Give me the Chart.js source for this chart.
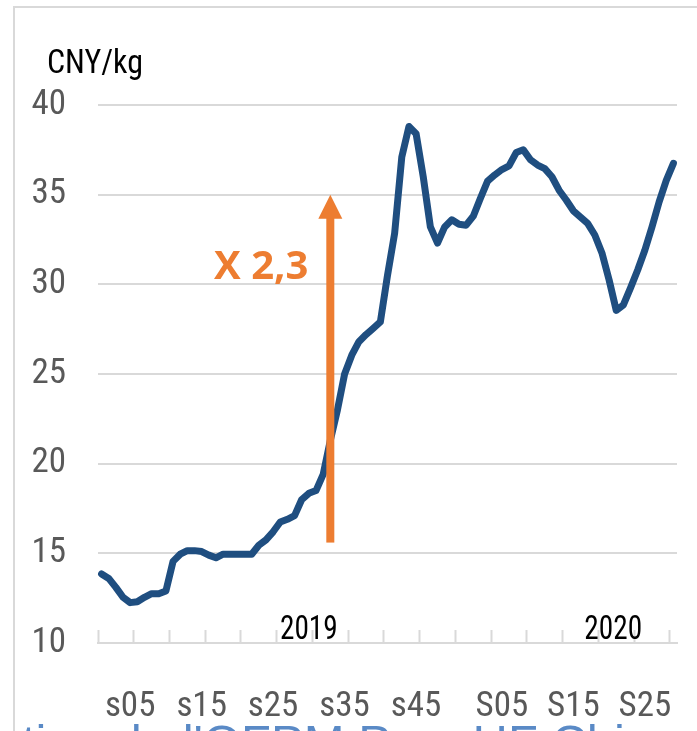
<!DOCTYPE html>
<html>
<head>
<meta charset="utf-8">
<script src="https://cdn.jsdelivr.net/npm/chart.js@4"></script>
<style>
  html, body { margin: 0; padding: 0; background: #fff; overflow: hidden; }
  #wrap { position: relative; width: 697px; height: 731px; }
  #frame { position: absolute; left: 13px; top: 6px; width: 800px; height: 800px; border: 2px solid #d9d9d9; box-sizing: border-box; }
  #chart { position: absolute; left: 0; top: 0; }
  #source { position: absolute; left: 22px; top: 714px; font: 49px 'Liberation Sans', Arial, sans-serif; line-height: normal; color: #5a8ac6; white-space: nowrap; }
</style>
</head>
<body>
<div id="wrap">
  <div id="frame"></div>
  <div id="source">tion de l'OFPM Porc HF Chine</div>
  <canvas id="chart" width="697" height="731"></canvas>
</div>
<script>
// Weeks: 2019 (s01..s52) then 2020 (S01..S29)
const weeks2019 = Array.from({ length: 52 }, (_, i) => 's' + String(i + 1).padStart(2, '0'));
const weeks2020 = Array.from({ length: 29 }, (_, i) => 'S' + String(i + 1).padStart(2, '0'));
const weeks = weeks2019.concat(weeks2020);

// Shown tick labels
const shownWeeks = ['s05', 's15', 's25', 's35', 's45', 'S05', 'S15', 'S25'];

// Price, CNY/kg
const prices = [
    13.85, 13.6, 13.1, 12.55, 12.25, 12.3, 12.55, 12.75, 12.75, 12.9,
    14.55, 14.95, 15.15, 15.15, 15.1, 14.9, 14.75, 14.95, 14.95, 14.95,
    14.95, 14.95, 15.45, 15.75, 16.2, 16.75, 16.9, 17.1, 18.0, 18.35,
    18.5, 19.4, 21.3, 23.0, 25.0, 26.05, 26.8, 27.2, 27.55, 27.9,
    30.5, 32.85, 37.1, 38.8, 38.4, 36.0, 33.2, 32.3, 33.2, 33.6,
    33.35, 33.3, 33.8, 34.8, 35.75, 36.1, 36.4, 36.6, 37.35, 37.5,
    36.95, 36.65, 36.45, 36.0, 35.25, 34.7, 34.1, 33.75, 33.4, 32.75,
    31.75, 30.25, 28.55, 28.85, 29.8, 30.8, 31.9, 33.2, 34.6, 35.8,
    36.75
];

// Y axis ticks
const yTicks = [10, 15, 20, 25, 30, 35, 40];

// Arrow annotation: week, from value, to value, label
const arrowWeek = 's33';
const arrowFrom = 15.6;
const arrowTo = 35.0;
const arrowText = 'X 2,3';

// Year labels
const years = ['2019', '2020'];
const yearWeeks = ['s30', 'S21'];

const narrow = "'Liberation Sans Narrow', 'Roboto Condensed', 'DejaVu Sans Condensed', sans-serif";

// text squeezed sideways, to get close to the narrow font of the original
function narrowText(ctx, text, x, y, squeeze) {
    ctx.save();
    ctx.translate(x, y);
    ctx.scale(squeeze, 1);
    ctx.fillText(text, 0, 0);
    ctx.restore();
}

// Draw the annotations (arrow, multiplier, years, unit)
const annotations = {
    id: 'annotations',
    afterDatasetsDraw(chart) {
        const ctx = chart.ctx;
        const x = chart.scales.x;
        const y = chart.scales.y;
        ctx.save();

        // arrow
        const ax = x.getPixelForValue(weeks.indexOf(arrowWeek));
        const ay0 = y.getPixelForValue(arrowFrom);
        const ay1 = y.getPixelForValue(arrowTo);
        const headLen = 24, headW = 24, shaftW = 8;
        ctx.fillStyle = '#ed7d31';
        ctx.fillRect(ax - shaftW / 2, ay1 + headLen - 1, shaftW, ay0 - ay1 - headLen + 1);
        ctx.beginPath();
        ctx.moveTo(ax, ay1);
        ctx.lineTo(ax + headW / 2, ay1 + headLen);
        ctx.lineTo(ax - headW / 2, ay1 + headLen);
        ctx.closePath();
        ctx.fill();

        // multiplier text
        ctx.font = "bold 40px 'Open Sans', sans-serif";
        ctx.textAlign = 'right';
        ctx.textBaseline = 'alphabetic';
        ctx.fillText(arrowText, ax - 22, y.getPixelForValue(30.3));

        // years
        ctx.fillStyle = '#000';
        ctx.font = '34px ' + narrow;
        ctx.textAlign = 'center';
        years.forEach((yr, i) => {
            const px = x.getPixelForValue(weeks.indexOf(yearWeeks[i])) - (i === 0 ? 0 : 3);
            narrowText(ctx, yr, px, y.getPixelForValue(10) - 4, 0.86);
        });

        // unit
        ctx.textAlign = 'left';
        ctx.font = '34px ' + narrow;
        narrowText(ctx, 'CNY/kg', 47, 73, 0.94);
        ctx.restore();
    }
};

function createChart() {
    const ctx = document.getElementById('chart').getContext('2d');
    new Chart(ctx, {
        type: 'line',
        data: {
            labels: weeks,
            datasets: [{
                data: prices,
                borderColor: '#1f4e80',
                borderWidth: 7,
                borderJoinStyle: 'round',
                borderCapStyle: 'round',
                pointRadius: 0,
                tension: 0,
                fill: false
            }]
        },
        options: {
            responsive: false,
            animation: false,
            events: [],
            layout: { padding: { top: 105, right: 20, left: 0, bottom: 0 } },
            plugins: {
                legend: { display: false },
                tooltip: { enabled: false }
            },
            scales: {
                x: {
                    type: 'category',
                    offset: true,
                    afterFit(scale) {
                        scale.height = 88;
                        scale.paddingLeft = 0;
                        scale.paddingRight = 0;
                    },
                    border: { display: true, color: '#d9d9d9', width: 2 },
                    grid: {
                        offset: true,
                        drawOnChartArea: false,
                        drawTicks: true,
                        tickLength: -13,
                        tickWidth: 2,
                        tickColor: (c) => (c.index !== undefined && c.index % 5 === 0) ? '#d9d9d9' : 'rgba(0,0,0,0)'
                    },
                    ticks: {
                        autoSkip: false,
                        maxRotation: 0,
                        padding: 2,
                        color: '#595959',
                        font: { family: narrow, size: 35, lineHeight: '150px' },
                        callback: function (value) {
                            const lbl = this.getLabelForValue(value);
                            return shownWeeks.includes(lbl) ? lbl : '';
                        }
                    }
                },
                y: {
                    min: 10,
                    max: 40,
                    afterFit(scale) { scale.width = 98; },
                    afterBuildTicks(scale) { scale.ticks = yTicks.map(v => ({ value: v })); },
                    border: { display: false },
                    grid: { color: '#d9d9d9', lineWidth: 2, drawTicks: false },
                    ticks: {
                        padding: 32,
                        color: '#595959',
                        font: { family: narrow, size: 35 }
                    }
                }
            }
        },
        plugins: [annotations]
    });
}

document.addEventListener('DOMContentLoaded', createChart);
</script>
</body>
</html>
